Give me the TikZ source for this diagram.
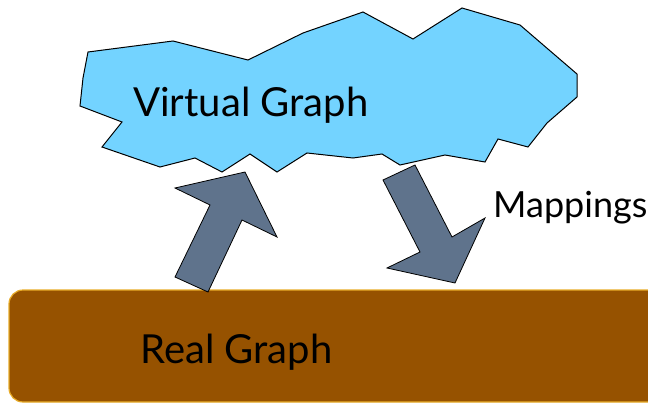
\documentclass[tikz,border=0pt]{standalone}
\usepackage{fontspec}
\setmainfont{Lato}
\usepackage{tikz}

\definecolor{cloudblue}{RGB}{115,211,255}
\definecolor{arrowgray}{RGB}{95,115,140}
\definecolor{realbrown}{RGB}{150,82,0}
\definecolor{realedge}{RGB}{232,172,40}

\begin{document}
\begin{tikzpicture}[x=1pt,y=-1pt,
    label/.style={font=\fontsize{40}{44}\selectfont, inner sep=0pt, anchor=base west},
    blockarrow/.style={fill=arrowgray, draw=black, line width=0.8pt, line join=miter}]
\useasboundingbox (0,0) rectangle (648,404);

% real graph
\draw[fill=realbrown, draw=realedge, line width=1.2pt, rounded corners=14pt] (9,290) rectangle (680,402);
\node[label] (real) at (140,363) {Real Graph};

% virtual graph cloud
\draw[fill=cloudblue, draw=black, line width=1pt, line join=miter]
    (88,52) -- (173,41) -- (248,60) -- (303,33) -- (363,12) -- (413,39)
 -- (462,8) -- (520,25) -- (577,74) -- (577,97) -- (547,123) -- (528,147)
 -- (498,139) -- (485,162) -- (445,155) -- (400,165) -- (382,154) -- (353,158)
 -- (307,153) -- (277,172) -- (250,154) -- (222,172) -- (195,158) -- (160,167)
 -- (102,147) -- (122,122) -- (80,106) -- (83,78) -- cycle;
\node[label] (virtual) at (133,117) {Virtual Graph};

% mappings
\draw[blockarrow] (245,172) -- (277,237) -- (242,220) -- (208,292) -- (175,277) -- (210,205) -- (175,188) -- cycle;
\draw[blockarrow] (383,180) -- (415,165) -- (452,237) -- (485,218) -- (455,283) -- (387,268) -- (420,252) -- cycle;
\node[label, font=\fontsize{36}{40}\selectfont] (map) at (493,217) {Mappings};
\end{tikzpicture}
\end{document}
